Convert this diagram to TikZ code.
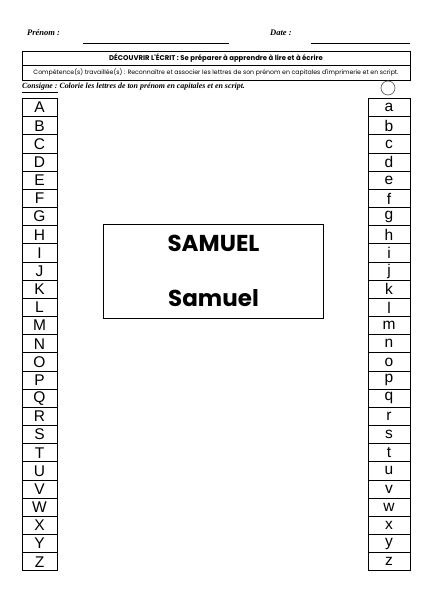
\documentclass[tikz,border=0pt]{standalone}
\usepackage{fontspec}
\setmainfont{Liberation Serif}
\setsansfont{Liberation Sans}
\newfontfamily\gothic{Poppins}
\usetikzlibrary{positioning}

\begin{document}
\begin{tikzpicture}[x=1pt, y=-1pt, node distance=0pt, font=\sffamily]
    \tikzstyle{capbox}=[draw=black, line width=0.9pt, rectangle, minimum width=35pt, minimum height=18.17pt, inner sep=0pt, outer sep=0pt, font=\sffamily\fontsize{15.5}{15.5}\selectfont]
    \tikzstyle{minbox}=[capbox, minimum width=42pt]
    \tikzstyle{hdr}=[draw=black, line width=0.8pt, rectangle, minimum width=388pt, inner sep=0pt, outer sep=0pt]
    \tikzstyle{cursive}=[inner sep=0pt, font=\rmfamily\bfseries\itshape\fontsize{8.5}{9}\selectfont]

    \useasboundingbox (0,0) rectangle (435,613);

    % en-tete
    \node[cursive, anchor=west] (prenom) at (27,33) {Prénom :};
    \node[cursive, anchor=west] (date) at (270,33) {Date :};
    \coordinate (p1) at (83,43);  \coordinate (p2) at (229,43);
    \coordinate (d1) at (311,43); \coordinate (d2) at (410,43);
    \draw[line width=0.8pt] (p1) -- (p2);
    \draw[line width=0.8pt] (d1) -- (d2);

    \node[hdr, minimum height=14pt, font=\gothic\bfseries\fontsize{6.9}{7}\selectfont] (titre) at (216,58)
        {DÉCOUVRIR L'ÉCRIT : Se préparer à apprendre à lire et à écrire};
    \node[hdr, below=of titre, minimum height=15pt, font=\gothic\fontsize{6.2}{7}\selectfont] (comp)
        {Compétence(s) travaillée(s) : Reconnaître et associer les lettres de son prénom en capitales d'imprimerie et en script.};

    \node[cursive, anchor=west, font=\rmfamily\bfseries\itshape\fontsize{7.9}{8}\selectfont] (consigne) at (22,88)
        {\underline{Consigne :} Colorie les lettres de ton prénom en capitales et en script.};
    \node[draw=black!60, line width=0.7pt, circle, minimum size=14pt, inner sep=0pt] (rond) at (388,88) {};

    % colonnes de lettres
    \foreach \U/\l [count=\i] in {A/a,B/b,C/c,D/d,E/e,F/f,G/g,H/h,I/i,J/j,K/k,L/l,M/m,
                                  N/n,O/o,P/p,Q/q,R/r,S/s,T/t,U/u,V/v,W/w,X/x,Y/y,Z/z}{
        \node[capbox] (cap\i) at (39.5, 89.4+18.17*\i) {\U};
        \node[minbox] (min\i) at (389, 89.4+18.17*\i) {\l};
    }

    % prenom
    \node[draw=black, line width=1.4pt, rectangle, minimum width=220pt, minimum height=94pt, inner sep=0pt] (cadre) at (213.5,271.5) {};
    \node[font=\gothic\bfseries\fontsize{23}{23}\selectfont] (maj) at (213.5,243) {SAMUEL};
    \node[font=\gothic\bfseries\fontsize{23}{23}\selectfont] (script) at (213.5,298) {Samuel};
\end{tikzpicture}
\end{document}
